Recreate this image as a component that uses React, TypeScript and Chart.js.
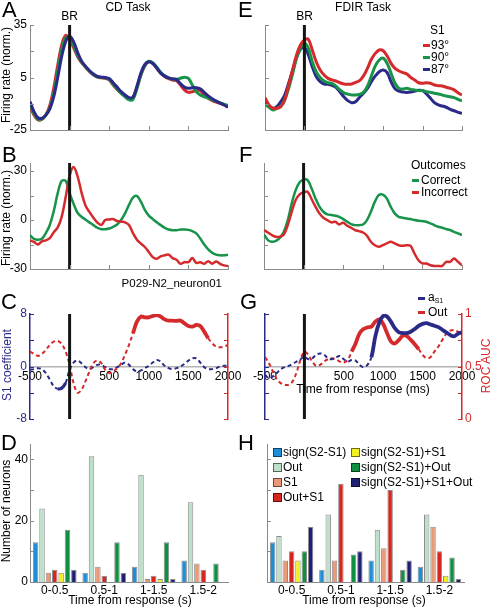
import React, { useEffect, useRef } from 'react';
import { Chart, registerables } from 'chart.js';

Chart.register(...registerables);

const FONT = '"Liberation Sans", Arial, Helvetica, sans-serif';
Chart.defaults.font.family = FONT;
Chart.defaults.font.size = 12;
Chart.defaults.color = '#000';

/* ---------------- data ---------------- */
const T_MS = [-500, -450, -400, -350, -300, -250, -200, -150, -100, -50, 0, 50, 100, 150, 200, 250, 300, 350, 400, 450, 500, 550, 600, 650, 700, 750, 800, 850, 900, 950, 1000, 1050, 1100, 1150, 1200, 1250, 1300, 1350, 1400, 1450, 1500, 1550, 1600, 1650, 1700, 1750, 1800, 1850, 1900, 1950, 2000];
const X_TICKS = [-500, 0, 500, 1000, 1500, 2000];

// Panel A (CD task, firing rate by S1)
const A_93 = [-11.3, -16.4, -19.3, -18.9, -16.4, -11, -1, 12, 23.5, 29, 27, 22, 17, 13.5, 11, 8.5, 6.5, 5.2, 4.8, 4.5, 3.6, 0.7, -1.8, -4, -5.6, -6.9, -6.5, -0.6, 6.4, 11.6, 13.9, 13.1, 10.2, 7.4, 5.5, 4.3, 3.6, 3.2, 0.7, -2.1, -3.5, -3.1, -2.5, -2.5, -5, -6.9, -8.2, -9, -9.8, -10.7, -11.7];
const A_90 = [-10, -15.5, -18.8, -18.8, -16.5, -12.5, -4, 8.5, 20.5, 27.5, 28, 23.5, 18, 14, 11, 8.7, 6.7, 5.4, 5, 4.8, 4, 1.2, -1.5, -4, -6, -7.8, -7.5, -1.5, 6.5, 12, 14.3, 13.5, 11, 8, 6, 4.8, 4.2, 4, 4.6, 5.2, 4.5, 0.7, -3, -5, -6, -6.8, -7.8, -8.5, -9.5, -10.2, -11];
const A_87 = [-8.8, -14.5, -18, -18.3, -16.5, -13, -6, 5, 17, 25.5, 28.5, 25.5, 19.5, 14.5, 11.5, 9, 7, 5.7, 5.2, 5, 4.4, 2, -0.5, -3, -5, -6.5, -6.2, 0, 7.5, 12.5, 14, 13, 10.5, 7.5, 5.8, 4.8, 4.2, 3.8, 1.5, -0.5, -1.2, -0.8, -0.8, -1.5, -3.5, -5.5, -7.2, -8.5, -9.6, -10.7, -12];

// Panel E (FDIR task, firing rate by S1)
const E_93 = [-6.5, -10.7, -12.6, -12.6, -11.7, -7.9, 0.7, 9.3, 17.9, 23.6, 26.4, 26.8, 20.7, 14, 9.3, 6.4, 4.5, 3.6, 3, 2, 1.3, 1.1, 1.3, 2.2, 3.2, 5.9, 10.2, 15.4, 18.8, 20.7, 20.3, 17.3, 13.1, 10.2, 8.7, 7.8, 7, 5, 3.6, 2, 1.7, 2, 1.7, 0.7, 0.3, 0.1, -0.6, -1.2, -2.1, -3.7, -5];
const E_90 = [-10.1, -12, -13.6, -12.6, -11.3, -7.9, -1.2, 7, 16, 21.7, 24.9, 21.7, 14, 8.3, 5, 3, 2, 1.7, 0.1, -2.1, -3.7, -4.5, -5, -5, -4.6, -3.5, 0, 5.9, 11.6, 15, 16, 13.1, 7.4, 1.7, -1.2, -1.5, -1.2, -1.8, -2.1, -2.5, -2.5, -3.1, -3.5, -4, -4.4, -5, -5.6, -6, -6.5, -7.5, -8.4];
const E_87 = [-8.8, -11.3, -12.6, -11.7, -8.8, -5, 1.7, 8.9, 16.5, 21.1, 22.2, 17.9, 11.2, 5.5, 2.6, 1.3, 1.1, 0.5, -0.6, -3.1, -6, -8.2, -9.4, -8.8, -6.3, -4, -1.2, 2.6, 5.9, 8.3, 9.3, 7.8, 2.6, -1.5, -2.8, -3.3, -3.5, -3.3, -2.8, -2.3, -2.5, -4.4, -6.9, -9.4, -10.7, -11.3, -12, -13.2, -14, -14.9, -15.5];

// Panel B (CD task, outcomes)
const B_CORRECT = [-9.3, -11.5, -12, -11.5, -8, -3, 5.5, 16.5, 24, 24, 16.5, 10, 4.5, 2, 0.3, -1.4, -3.1, -4.7, -5.6, -5.6, -5.2, -4.1, -2.7, 0, 4.1, 9.3, 13.8, 14.8, 11.3, 6.2, 2.7, 0.6, -1.4, -3.1, -4.7, -5.8, -6.2, -6.2, -5.8, -5.8, -6, -6.8, -8.2, -11.3, -15, -17.9, -20, -21.2, -21.6, -21.6, -21.2];
const B_INCORRECT = [-12.4, -13.4, -15, -13, -12.4, -11, -7.5, -4.5, 2, 14, 27, 32.5, 27, 17, 9, 5, 1.5, -1.5, -3, 0, 0.4, 0.6, -0.6, -1, -1.4, -3, -8, -12, -14.4, -16.5, -19.6, -22.7, -23.7, -22.3, -21.6, -21.2, -23.3, -24.3, -26.8, -25.8, -25.8, -23.3, -26.2, -25.8, -26.8, -25.2, -26.8, -25.4, -26.8, -27.8, -28.2];

// Panel F (FDIR task, outcomes)
const F_CORRECT = [-8.8, -12.3, -13.3, -12.7, -10.9, -7.2, 0, 10.2, 18.4, 23.2, 24.8, 24.5, 19.5, 13.3, 8.2, 5.1, 3.5, 3.1, 2.7, 2, 0.6, -1, -2.5, -3.1, -3.1, -2.7, 0, 5.1, 11.3, 15.4, 15.6, 13.3, 8.2, 4.1, 2, 1.4, 1, 0.6, 0, -0.4, -0.6, -1, -2, -3.1, -4.1, -4.7, -5.5, -6.1, -7.2, -8.2, -9.2];
const F_INCORRECT = [-6.1, -7.6, -9.2, -10.2, -10.2, -8.8, -3.1, 5.1, 12.3, 15.8, 17, 17.4, 12.9, 8.2, 4.1, 1.4, 0, -1.4, -1, -2.7, -1.6, -3.5, -4.7, -6.1, -6.8, -7.6, -9.6, -13.3, -15.4, -16.4, -15.4, -14.3, -13.3, -14.3, -15.4, -15.8, -15.4, -15.8, -20.5, -24.6, -26.6, -26.6, -27.7, -28.1, -28.1, -28.1, -25.6, -25.6, -23.6, -25.6, -27.7];

// Panel C (CD task): S1 coefficient (left axis) and outcome ROC AUC (right axis)
const C_S1_COEF = [-0.5, -0.4, -0.25, -0.4, -1, -2, -3, -3.4, -3.3, -2.5, -0.5, 0.6, 0.9, 0.5, -0.1, -0.4, -0.1, 0.25, 0.25, -0.1, -0.4, -0.4, -0.1, 0.25, 0.6, 0.25, -0.4, -0.75, -0.6, -0.25, 0.1, 0.6, 1, 0.75, 0.1, -0.25, -0.4, -0.25, 0, 0.4, 0.9, 1.25, 1.25, 0.6, -0.1, -0.4, -0.4, -0.25, 0, 0.1, 0.1];
const C_OUT_AUC = [0.642, 0.62, 0.601, 0.62, 0.658, 0.706, 0.737, 0.744, 0.715, 0.642, 0.516, 0.342, 0.25, 0.278, 0.358, 0.453, 0.532, 0.557, 0.532, 0.468, 0.437, 0.453, 0.484, 0.532, 0.611, 0.706, 0.816, 0.927, 0.975, 0.968, 0.968, 0.981, 0.99, 0.975, 0.949, 0.937, 0.937, 0.934, 0.937, 0.911, 0.886, 0.88, 0.896, 0.886, 0.832, 0.769, 0.722, 0.69, 0.684, 0.69, 0.706];
const C_S1_SIG = [-150, -50];
const C_OUT_SIG = [800, 1750];

// Panel G (FDIR task)
const G_S1_COEF = [-1.27, -1.8, -1.5, -1, -0.4, -0.1, 0.1, 0.4, 0.75, 1.1, 1.5, 1.1, 1.25, 1.8, 2, 1.8, 1.25, 1.1, 1.4, 1.6, 1.1, 0.75, 1, 0.9, 0.25, -0.1, 0.25, 1.4, 4.6, 6.7, 7.7, 7.6, 6.8, 5.8, 5.2, 5.1, 5.1, 5.3, 5.7, 6.2, 6.5, 6.6, 6.4, 6.2, 6, 5.6, 5.2, 4.8, 4.6, 5, 5.2];
const G_OUT_AUC = [0.589, 0.532, 0.453, 0.38, 0.342, 0.326, 0.326, 0.358, 0.443, 0.563, 0.642, 0.611, 0.547, 0.506, 0.516, 0.547, 0.57, 0.579, 0.57, 0.547, 0.538, 0.563, 0.642, 0.72, 0.816, 0.857, 0.873, 0.88, 0.927, 0.949, 0.905, 0.816, 0.737, 0.72, 0.753, 0.794, 0.79, 0.753, 0.712, 0.665, 0.611, 0.579, 0.589, 0.642, 0.69, 0.753, 0.81, 0.842, 0.848, 0.832, 0.816];
const G_S1_SIG = [850, 2000];
const G_OUT_SIG = [600, 1450];

const FR_TICKS_A = [-25, -10, 5, 20, 35];
const FR_LABELS_A = [-25, 5, 35];
const FR_TICKS_B = [-30, -15, 0, 15, 30];
const FR_LABELS_B = [-30, 0, 30];
const COEF_TICKS = [-8, -4, 0, 4, 8];
const COEF_LABELS = [-8, 0, 8];
const AUC_TICKS = [0, 0.25, 0.5, 0.75, 1];
const AUC_LABELS = [0, 0.5, 1];

// Panels D and H (number of neurons per category)
const BIN_LABELS = ['0-0.5', '0.5-1', '1-1.5', '1.5-2'];
const CAT_NAMES = ['sign(S2-S1)', 'Out', 'S1', 'Out+S1', 'sign(S2-S1)+S1', 'sign(S2-S1)+Out', 'sign(S2-S1)+S1+Out'];
const D_SIGN = [13, 3, 5, 7];
const D_OUT = [24, 41, 35, 26];
const D_S1 = [3, 5, 1, 6];
const D_OUT_S1 = [4, 2, 2, 4];
const D_SIGN_S1 = [3, 0, 1, 0];
const D_SIGN_OUT = [17, 13, 13, 6];
const D_SIGN_S1_OUT = [4, 3, 1, 0];
const H_SIGN = [13, 4, 7, 5];
const H_OUT = [15, 22, 17, 22];
const H_S1 = [7, 7, 11, 18];
const H_OUT_S1 = [10, 32, 30, 10];
const H_SIGN_S1 = [7, 0, 0, 2];
const H_SIGN_OUT = [10, 9, 4, 8];
const H_SIGN_S1_OUT = [18, 10, 7, 1];
const COUNT_TICKS = [0, 10, 20, 30, 40];
const COUNT_LABELS = [0, 20, 40];

const S1_LEGEND = ['93°', '90°', '87°'];
const OUTCOME_LEGEND = ['Correct', 'Incorrect'];

/* ---------------- styles ---------------- */
const RED = '#d42a2c';
const GREEN = '#17934a';
const NAVY = '#2a2a88';
const AXIS = '#8a8a8a';
const BAR_FILL = ['#1d8ed8', '#bde0cb', '#eb9877', '#d7261e', '#f4ef1e', '#0f9041', '#1f1f74'];
const BAR_EDGE = 'rgba(0,0,0,0.45)';

/* ---------------- plugins ---------------- */
const innerTicks = {
  id: 'innerTicks',
  afterDraw(chart: any, _a: any, opts: any) {
    const axes = (opts && opts.axes) || [];
    const ctx = chart.ctx;
    const ca = chart.chartArea;
    ctx.save();
    ctx.lineWidth = 1;
    for (const a of axes) {
      const s = chart.scales[a.id];
      if (!s) continue;
      ctx.strokeStyle = a.color;
      ctx.beginPath();
      for (const tk of s.ticks) {
        const p = Math.round(s.getPixelForValue(tk.value)) + 0.5;
        if (s.isHorizontal()) {
          ctx.moveTo(p, ca.bottom);
          ctx.lineTo(p, ca.bottom - a.len);
        } else if (s.position === 'left') {
          ctx.moveTo(ca.left, p);
          ctx.lineTo(ca.left + a.len, p);
        } else {
          ctx.moveTo(ca.right, p);
          ctx.lineTo(ca.right - a.len, p);
        }
      }
      ctx.stroke();
    }
    ctx.restore();
  },
};

const brLine = {
  id: 'brLine',
  afterDatasetsDraw(chart: any, _a: any, opts: any) {
    if (!opts || !opts.show) return;
    const ctx = chart.ctx;
    const x = chart.scales.x.getPixelForValue(0);
    const ca = chart.chartArea;
    ctx.save();
    ctx.strokeStyle = '#151515';
    ctx.lineWidth = 3;
    ctx.beginPath();
    ctx.moveTo(x, ca.top);
    ctx.lineTo(x, ca.bottom);
    ctx.stroke();
    ctx.restore();
  },
};

/* ---------------- builders ---------------- */
const pts = (arr: number[]) => T_MS.map((t, i) => ({ x: t, y: arr[i] }));

function lineDs(arr: number[], color: string, width: number, extra: any = {}) {
  return {
    data: pts(arr),
    borderColor: color,
    backgroundColor: color,
    borderWidth: width,
    pointRadius: 0,
    tension: 0.35,
    fill: false,
    ...extra,
  };
}

function sigSegment(range: number[], solidW: number, dashW: number) {
  const inR = (c: any) => c.p0.parsed.x >= range[0] && c.p1.parsed.x <= range[1];
  return {
    borderDash: (c: any) => (inR(c) ? [] : [4, 3]),
    borderWidth: (c: any) => (inR(c) ? solidW : dashW),
  };
}

function yAxis(a: any, position: string, width: number) {
  return {
    type: 'linear',
    position,
    min: a.min,
    max: a.max,
    afterBuildTicks: (s: any) => {
      s.ticks = a.ticks.map((v: number) => ({ value: v }));
    },
    grid: { display: false, drawTicks: false },
    border: { display: true, color: a.color, width: a.bw || 1 },
    ticks: {
      display: a.labels.length > 0,
      autoSkip: false,
      padding: a.pad === undefined ? 3 : a.pad,
      color: a.labelColor || '#000',
      font: { size: 12 },
      callback: (v: number) => (a.labels.includes(v) ? String(v) : ''),
    },
    afterFit: (s: any) => {
      s.width = width;
    },
  };
}

function timeConfig(o: any) {
  const [cl, ct, cw, ch] = o.cv;
  const [al, at, ar, ab] = o.area;
  const zero = !!o.zero;
  const rightSpace = cl + cw - ar;
  const bottomSpace = ct + ch - ab;
  const scales: any = {
    x: {
      type: 'linear',
      min: -500,
      max: 2000,
      position: zero ? { y: 0 } : 'bottom',
      afterBuildTicks: (s: any) => {
        s.ticks = X_TICKS.map((v) => ({ value: v }));
      },
      grid: { display: false, drawTicks: false },
      border: { display: true, color: o.xColor || AXIS, width: o.xWidth || 1 },
      ticks: {
        display: !!o.xLabels,
        autoSkip: false,
        maxRotation: 0,
        padding: 3,
        color: '#000',
        font: { size: 12 },
        callback: (v: number) => (v === 0 ? '' : String(v)),
      },
      afterFit: (s: any) => {
        if (!zero) s.height = bottomSpace;
      },
    },
    y: yAxis(o.y, 'left', al - cl),
  };
  if (o.y2) scales.y2 = yAxis(o.y2, 'right', rightSpace);
  const tickAxes: any[] = [{ id: 'y', color: o.y.color, len: 4 }];
  if (!zero) tickAxes.push({ id: 'x', color: AXIS, len: 4 });
  if (o.y2) tickAxes.push({ id: 'y2', color: o.y2.color, len: 4 });
  return {
    type: 'line',
    data: { datasets: o.datasets },
    options: {
      responsive: false,
      animation: false,
      events: [],
      layout: {
        padding: { left: 0, top: at - ct, right: o.y2 ? 0 : rightSpace, bottom: zero ? bottomSpace : 0 },
      },
      plugins: {
        legend: { display: false },
        tooltip: { enabled: false },
        innerTicks: { axes: tickAxes },
        brLine: { show: true },
      },
      scales,
    },
    plugins: [innerTicks, brLine],
  };
}

function barConfig(o: any) {
  const [cl, ct, cw, ch] = o.cv;
  const [al, at, ar, ab] = o.area;
  const datasets = o.series.map((arr: number[], i: number) => ({
    label: CAT_NAMES[i],
    data: arr,
    backgroundColor: BAR_FILL[i],
    borderColor: BAR_EDGE,
    borderWidth: 1,
    categoryPercentage: 0.9,
    barPercentage: 0.86,
  }));
  return {
    type: 'bar',
    data: { labels: BIN_LABELS, datasets },
    options: {
      responsive: false,
      animation: false,
      events: [],
      layout: { padding: { left: 0, top: at - ct, right: cl + cw - ar, bottom: 0 } },
      plugins: {
        legend: { display: false },
        tooltip: { enabled: false },
        innerTicks: { axes: [{ id: 'y', color: AXIS, len: 4 }] },
      },
      scales: {
        x: {
          type: 'category',
          grid: { display: false, drawTicks: false },
          border: { display: true, color: AXIS, width: 1 },
          ticks: { padding: 1, maxRotation: 0, autoSkip: false, color: '#000', font: { size: 12 } },
          afterFit: (s: any) => {
            s.height = ct + ch - ab;
          },
        },
        y: yAxis({ min: 0, max: 45, ticks: COUNT_TICKS, labels: o.labels, color: AXIS, pad: 2 }, 'left', al - cl),
      },
    },
    plugins: [innerTicks],
  };
}

/* ---------------- components ---------------- */
function ChartCanvas({ cv, make }: { cv: number[]; make: () => any }) {
  const ref = useRef<HTMLCanvasElement | null>(null);
  useEffect(() => {
    const chart = new Chart(ref.current as HTMLCanvasElement, make());
    return () => chart.destroy();
  }, []);
  return (
    <canvas
      ref={ref}
      width={cv[2]}
      height={cv[3]}
      style={{ position: 'absolute', left: cv[0], top: cv[1], width: cv[2], height: cv[3] }}
    />
  );
}

function Txt({ x, y, size = 12, anchor = 'start', color = '#000', children }: any) {
  const tx = anchor === 'middle' ? 'translateX(-50%)' : anchor === 'end' ? 'translateX(-100%)' : 'none';
  return (
    <div
      style={{
        position: 'absolute',
        left: x,
        top: y - size * 0.847,
        fontSize: size,
        lineHeight: `${size}px`,
        color,
        whiteSpace: 'nowrap',
        transform: tx,
      }}
    >
      {children}
    </div>
  );
}

function VTxt({ x, y, size = 12, color = '#000', children }: any) {
  return (
    <div
      style={{
        position: 'absolute',
        left: x,
        top: y,
        fontSize: size,
        lineHeight: `${size}px`,
        color,
        whiteSpace: 'nowrap',
        transform: 'translate(-50%, -50%) rotate(-90deg)',
      }}
    >
      {children}
    </div>
  );
}

function Dash({ x, y, color }: any) {
  return <div style={{ position: 'absolute', left: x, top: y - 1.5, width: 7, height: 3, background: color }} />;
}

function Swatch({ x, y, color }: any) {
  return (
    <div
      style={{
        position: 'absolute',
        left: x,
        top: y,
        width: 7,
        height: 7,
        background: color,
        border: '1px solid rgba(0,0,0,0.55)',
      }}
    />
  );
}

const LETTER = 22;

export default function App() {
  const frA = { min: -25, max: 35, ticks: FR_TICKS_A, labels: FR_LABELS_A, color: AXIS };
  const frE = { min: -25, max: 35, ticks: FR_TICKS_A, labels: [], color: AXIS };
  const frB = { min: -30, max: 35, ticks: FR_TICKS_B, labels: FR_LABELS_B, color: AXIS };
  const frF = { min: -30, max: 35, ticks: FR_TICKS_B, labels: [], color: AXIS };

  const legendRows = [45.5, 57.5, 69.5];
  const legendColors = [RED, GREEN, NAVY];

  return (
    <div
      style={{
        position: 'absolute',
        left: 0,
        top: 0,
        width: 492,
        height: 608,
        background: '#fff',
        overflow: 'hidden',
        fontFamily: FONT,
        color: '#000',
      }}
    >
      <ChartCanvas
        cv={[0, 10, 242, 132]}
        make={() =>
          timeConfig({
            cv: [0, 10, 242, 132],
            area: [30, 25, 228, 130],
            y: frA,
            datasets: [lineDs(A_87, NAVY, 3), lineDs(A_90, GREEN, 3), lineDs(A_93, RED, 3)],
          })
        }
      />
      <ChartCanvas
        cv={[240, 10, 250, 132]}
        make={() =>
          timeConfig({
            cv: [240, 10, 250, 132],
            area: [265, 25, 462, 130],
            y: frE,
            datasets: [lineDs(E_93, RED, 3), lineDs(E_90, GREEN, 3), lineDs(E_87, NAVY, 3)],
          })
        }
      />
      <ChartCanvas
        cv={[0, 148, 242, 134]}
        make={() =>
          timeConfig({
            cv: [0, 148, 242, 134],
            area: [30, 163, 228, 269],
            y: frB,
            datasets: [lineDs(B_INCORRECT, RED, 2.5), lineDs(B_CORRECT, GREEN, 2.5)],
          })
        }
      />
      <ChartCanvas
        cv={[240, 148, 250, 134]}
        make={() =>
          timeConfig({
            cv: [240, 148, 250, 134],
            area: [264, 163, 462, 269],
            y: frF,
            datasets: [lineDs(F_INCORRECT, RED, 2.5), lineDs(F_CORRECT, GREEN, 2.5)],
          })
        }
      />
      <ChartCanvas
        cv={[0, 298, 246, 132]}
        make={() =>
          timeConfig({
            cv: [0, 298, 246, 132],
            area: [30, 314, 228, 419],
            zero: true,
            xLabels: true,
            xColor: '#b4b4b4',
            xWidth: 1.5,
            y: { min: -8, max: 8, ticks: COEF_TICKS, labels: COEF_LABELS, color: NAVY, labelColor: NAVY, bw: 1.5 },
            y2: { min: 0, max: 1, ticks: AUC_TICKS, labels: [], color: RED, bw: 1.5 },
            datasets: [
              lineDs(C_OUT_AUC, RED, 2, { yAxisID: 'y2', segment: sigSegment(C_OUT_SIG, 3.8, 2) }),
              lineDs(C_S1_COEF, NAVY, 2, { yAxisID: 'y', segment: sigSegment(C_S1_SIG, 3.2, 2) }),
            ],
          })
        }
      />
      <ChartCanvas
        cv={[240, 298, 252, 132]}
        make={() =>
          timeConfig({
            cv: [240, 298, 252, 132],
            area: [265, 314, 462, 419],
            zero: true,
            xLabels: true,
            xColor: '#b4b4b4',
            xWidth: 1.5,
            y: { min: -8, max: 8, ticks: COEF_TICKS, labels: [], color: NAVY, bw: 1.5 },
            y2: { min: 0, max: 1, ticks: AUC_TICKS, labels: AUC_LABELS, color: RED, labelColor: RED, bw: 1.5, pad: 3 },
            datasets: [
              lineDs(G_S1_COEF, NAVY, 2, { yAxisID: 'y', segment: sigSegment(G_S1_SIG, 3.8, 2) }),
              lineDs(G_OUT_AUC, RED, 2, { yAxisID: 'y2', segment: sigSegment(G_OUT_SIG, 3.8, 2) }),
            ],
          })
        }
      />
      <ChartCanvas
        cv={[0, 430, 242, 178]}
        make={() =>
          barConfig({
            cv: [0, 430, 242, 178],
            area: [30, 444, 228, 582],
            labels: COUNT_LABELS,
            series: [D_SIGN, D_OUT, D_S1, D_OUT_S1, D_SIGN_S1, D_SIGN_OUT, D_SIGN_S1_OUT],
          })
        }
      />
      <ChartCanvas
        cv={[245, 430, 247, 178]}
        make={() =>
          barConfig({
            cv: [245, 430, 247, 178],
            area: [267, 444, 464, 582],
            labels: [],
            series: [H_SIGN, H_OUT, H_S1, H_OUT_S1, H_SIGN_S1, H_SIGN_OUT, H_SIGN_S1_OUT],
          })
        }
      />

      {/* panel letters */}
      <Txt x={2} y={18} size={LETTER}>A</Txt>
      <Txt x={238} y={18} size={LETTER}>E</Txt>
      <Txt x={2} y={163} size={LETTER}>B</Txt>
      <Txt x={239} y={163} size={LETTER}>F</Txt>
      <Txt x={1} y={310} size={LETTER}>C</Txt>
      <Txt x={240} y={310} size={LETTER}>G</Txt>
      <Txt x={1} y={451} size={LETTER}>D</Txt>
      <Txt x={238} y={451} size={LETTER}>H</Txt>

      {/* titles */}
      <Txt x={128} y={11.5} anchor="middle">CD Task</Txt>
      <Txt x={363} y={11.5} anchor="middle">FDIR Task</Txt>
      <Txt x={69.5} y={20} anchor="middle">BR</Txt>
      <Txt x={304.5} y={20} anchor="middle">BR</Txt>

      {/* S1 legend */}
      <Txt x={430} y={34.5}>S1</Txt>
      {S1_LEGEND.map((lab, i) => (
        <React.Fragment key={lab}>
          <Dash x={423} y={legendRows[i]} color={legendColors[i]} />
          <Txt x={431} y={legendRows[i] + 3.8}>{lab}</Txt>
        </React.Fragment>
      ))}

      {/* Outcomes legend */}
      <Txt x={411} y={169.5}>Outcomes</Txt>
      {OUTCOME_LEGEND.map((lab, i) => (
        <React.Fragment key={lab}>
          <Dash x={412} y={180.5 + i * 12} color={i === 0 ? GREEN : RED} />
          <Txt x={421} y={184.3 + i * 12}>{lab}</Txt>
        </React.Fragment>
      ))}

      {/* G legend */}
      <Dash x={418} y={298.5} color={NAVY} />
      <Txt x={428} y={301.5}>
        a<span style={{ fontSize: 7, position: 'relative', top: 2 }}>S1</span>
      </Txt>
      <Dash x={418} y={312} color={RED} />
      <Txt x={428} y={316}>Out</Txt>

      <Txt x={222} y={288} size={11.5} anchor="end">P029-N2_neuron01</Txt>

      {/* axis titles */}
      <VTxt x={6} y={75}>Firing rate (norm.)</VTxt>
      <VTxt x={6} y={218}>Firing rate (norm.)</VTxt>
      <VTxt x={7} y={365} color={NAVY}>S1 coefficient</VTxt>
      <VTxt x={486} y={366} color={RED}>ROC AUC</VTxt>
      <VTxt x={6} y={511}>Number of neurons</VTxt>
      <Txt x={363} y={393} anchor="middle">Time from response (ms)</Txt>
      <Txt x={130} y={604} anchor="middle">Time from response (s)</Txt>
      <Txt x={364} y={604} anchor="middle">Time from response (s)</Txt>

      {/* H legend */}
      {CAT_NAMES.map((name, i) => {
        const col = i < 4 ? 0 : 1;
        const row = i < 4 ? i : i - 4;
        const sx = col === 0 ? 273 : 351;
        const base = 456 + row * 15;
        return (
          <React.Fragment key={name}>
            <Swatch x={sx} y={base - 8} color={BAR_FILL[i]} />
            <Txt x={sx + 10} y={base}>{name}</Txt>
          </React.Fragment>
        );
      })}
    </div>
  );
}
